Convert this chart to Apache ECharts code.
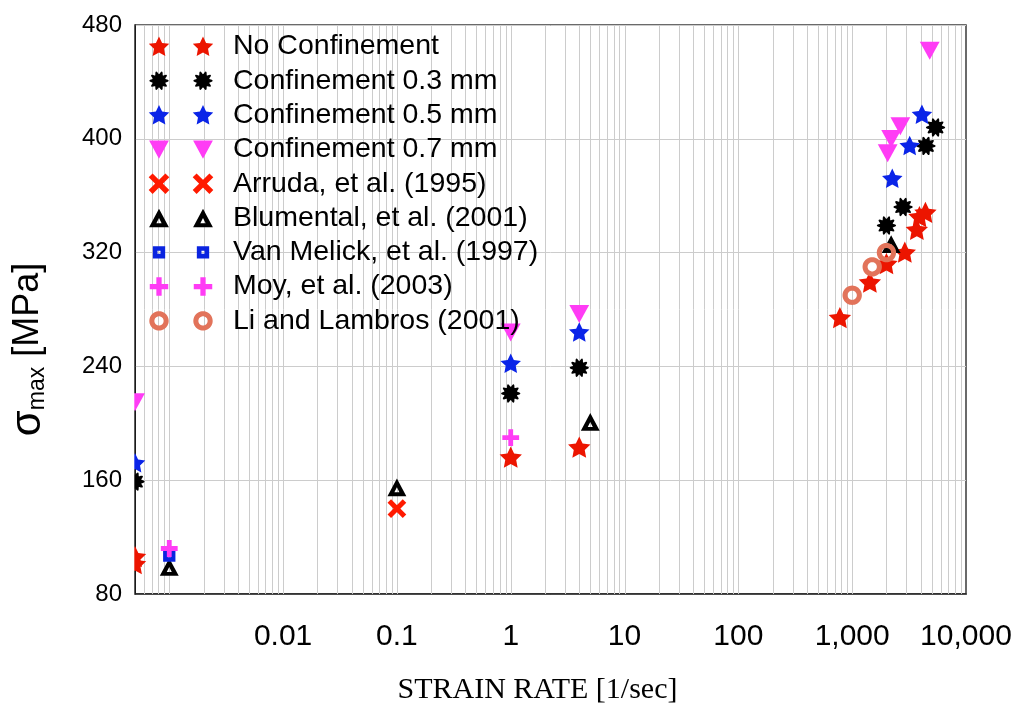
<!DOCTYPE html>
<html>
<head>
<meta charset="utf-8">
<script src="https://cdn.jsdelivr.net/npm/echarts@6/dist/echarts.min.js"></script>
<style>html,body{margin:0;padding:0;background:#fff;}#c{width:1021px;height:704px;}</style>
</head>
<body>
<div id="c"></div>
<script>
// ---------------- data ----------------
const seriesNames = ['No Confinement','Confinement 0.3 mm','Confinement 0.5 mm','Confinement 0.7 mm',
  'Arruda, et al. (1995)','Blumental, et al. (2001)','Van Melick, et al. (1997)','Moy, et al. (2003)','Li and Lambros (2001)'];
const noConfX = [0.0005, 0.0005, 1, 4, 780, 1430, 2000, 2900, 3700, 3900, 4400];
const noConfY = [106, 101, 176, 183, 274, 299, 312, 320, 336, 345, 348];
const conf03X = [0.0005, 1, 4, 2000, 2800, 4450, 5400];
const conf03Y = [159, 221, 239, 339, 352, 395, 408];
const conf05X = [0.0005, 1, 4, 2250, 3200, 4100];
const conf05Y = [172, 242, 264, 372, 395, 417];
const conf07X = [0.0005, 1, 4, 2050, 2200, 2650, 4800];
const conf07Y = [215, 264, 277, 390, 400, 409, 462];
const arrudaX = [0.1];
const arrudaY = [140];
const blumentalX = [0.001, 0.1, 5, 2200];
const blumentalY = [99, 155, 201, 326];
const vanMelickX = [0.001];
const vanMelickY = [107];
const moyX = [0.001, 1];
const moyY = [112, 190];
const liX = [1000, 1500, 2000];
const liY = [290, 310, 320];
const xMin = 0.0005, xMax = 10000;
const yMin = 80, yMax = 480, yStep = 80;
const xLabelDecades = [-2, -1, 0, 1, 2, 3, 4];

// ---------------- marker shapes (unit box 0..100) ----------------
function poly(pts, dx) {
  return 'M' + pts.map(p => (p[0] + dx).toFixed(2) + ' ' + p[1].toFixed(2)).join(' L') + ' Z ';
}
function starPts(cx, cy, R, r) {
  const pts = [];
  for (let k = 0; k < 10; k++) {
    const a = -Math.PI / 2 + k * Math.PI / 5;
    const rr = k % 2 === 0 ? R : r;
    pts.push([cx + rr * Math.cos(a), cy + rr * Math.sin(a)]);
  }
  return pts;
}
function flowerPts() {
  const pts = [];
  for (let k = 0; k < 80; k++) {
    const a = k / 80 * Math.PI * 2;
    const rr = 37 + 7 * Math.cos(10 * a);
    pts.push([50 + rr * Math.cos(a), 50 + rr * Math.sin(a)]);
  }
  return pts;
}
function circlePts(r, reverse) {
  const pts = [];
  for (let k = 0; k < 48; k++) {
    const a = (reverse ? -1 : 1) * k / 48 * Math.PI * 2;
    pts.push([50 + r * Math.cos(a), 50 + r * Math.sin(a)]);
  }
  return pts;
}
const SHAPES = {
  star: [starPts(50, 53, 49, 24)],
  flower: [flowerPts()],
  triDown: [[[5, 10], [95, 10], [50, 92]]],
  cross: [[[20.8, 3.2], [96.8, 79.2], [79.2, 96.8], [3.2, 20.8]], [[79.2, 3.2], [96.8, 20.8], [20.8, 96.8], [3.2, 79.2]]],
  triHollow: [[[50, 8], [95, 92], [5, 92]], [[50, 50], [38, 74], [62, 74]]],
  squareHollow: [[[22, 22], [78, 22], [78, 78], [22, 78]], [[43, 43], [43, 57], [57, 57], [57, 43]]],
  plus: [[[38, 8], [62, 8], [62, 38], [92, 38], [92, 62], [62, 62], [62, 92], [38, 92], [38, 62], [8, 62], [8, 38], [38, 38]]],
  ring: [circlePts(44, false), circlePts(21, true)]
};
function symbolPath(shape) {
  return 'path://M0 0 M100 100 ' + shape.map(p => poly(p, 0)).join('');
}
function legendPath(shape) {
  return 'path://M0 0 M300 100 ' + shape.map(p => poly(p, 0)).join('') + shape.map(p => poly(p, 200)).join('');
}

const FONT = "'Liberation Sans', Arial, sans-serif";
const specs = [
  { x: noConfX, y: noConfY, shape: SHAPES.star, color: '#ec1500', size: 24 },
  { x: conf03X, y: conf03Y, shape: SHAPES.flower, color: '#000000', size: 22 },
  { x: conf05X, y: conf05Y, shape: SHAPES.star, color: '#0a24e8', size: 22 },
  { x: conf07X, y: conf07Y, shape: SHAPES.triDown, color: '#ff3cf5', size: 22 },
  { x: arrudaX, y: arrudaY, shape: SHAPES.cross, color: '#ff1a00', size: 20 },
  { x: blumentalX, y: blumentalY, shape: SHAPES.triHollow, color: '#000000', size: 21 },
  { x: vanMelickX, y: vanMelickY, shape: SHAPES.squareHollow, color: '#0a24e0', size: 22 },
  { x: moyX, y: moyY, shape: SHAPES.plus, color: '#ff3cf5', size: 20 },
  { x: liX, y: liY, shape: SHAPES.ring, color: '#e2735a', size: 22 }
];

// grid line positions (decades and 2..9 subdivisions) from the axis range
const vGrid = [];
for (let e = -4; e <= 4; e++) {
  for (let m = 1; m <= 9; m++) {
    const v = m * Math.pow(10, e);
    if (v > xMin * 1.0001 && v < xMax * 0.9999) vGrid.push(v);
  }
}

const chart = echarts.init(document.getElementById('c'), null, { renderer: 'canvas' });

const scatterSeries = specs.map((s, i) => ({
  name: seriesNames[i],
  type: 'scatter',
  data: s.x.map((v, k) => [v, s.y[k]]),
  symbol: symbolPath(s.shape),
  symbolSize: s.size,
  itemStyle: { color: s.color, opacity: 1 },
  clip: false,
  z: 3,
  emphasis: { disabled: true }
}));

const gridSeries = {
  name: 'vgrid',
  type: 'custom',
  data: vGrid.map(v => [v, yMin]),
  encode: { x: 0, y: 1 },
  silent: true,
  z: 1,
  renderItem: function (params, api) {
    const v = api.value(0);
    const p1 = api.coord([v, yMin]);
    const p2 = api.coord([v, yMax]);
    const x = Math.round(p1[0]) + 0.5;
    return { type: 'line', shape: { x1: x, y1: p1[1], x2: x, y2: p2[1] }, style: { stroke: '#cccccc', lineWidth: 1 } };
  }
};

chart.setOption({
  animation: false,
  backgroundColor: '#ffffff',
  grid: { left: 135, right: 55, top: 25, bottom: 110, containLabel: false, outerBoundsMode: 'none',
    show: true, borderColor: '#3a3a3a', borderWidth: 1.5, backgroundColor: 'transparent' },
  legend: {
    orient: 'vertical', left: 143, top: 27,
    itemWidth: 66, itemHeight: 22, itemGap: 5.3,
    selectedMode: false,
    textStyle: { fontSize: 28.5, fontFamily: FONT, color: '#000', lineHeight: 28, padding: [0, 0, 0, 14] },
    data: seriesNames.map((n, i) => ({ name: n, icon: legendPath(specs[i].shape) }))
  },
  xAxis: {
    type: 'log', logBase: 10, min: xMin, max: xMax,
    name: 'STRAIN RATE [1/sec]', nameLocation: 'middle', nameGap: 81,
    nameTextStyle: { fontFamily: "'Liberation Serif', 'Times New Roman', serif", fontSize: 30, color: '#000', padding: [0, 26, 0, 0] },
    axisLine: { show: true, onZero: false, lineStyle: { color: '#222', width: 1.5 } },
    axisTick: { show: false },
    splitLine: { show: false },
    axisLabel: {
      fontFamily: FONT, fontSize: 30, color: '#000', margin: 28,
      formatter: function (v) {
        const lg = Math.log10(v);
        const e = Math.round(lg);
        if (Math.abs(lg - e) > 1e-6 || xLabelDecades.indexOf(e) < 0) return '';
        if (e < 0) return v.toFixed(-e);
        return Math.round(v).toLocaleString('en-US');
      }
    }
  },
  yAxis: {
    type: 'value', min: yMin, max: yMax, interval: yStep,
    name: '{s|σ}{m|max} [MPa]', nameLocation: 'middle', nameGap: 86,
    nameTextStyle: {
      fontFamily: FONT, fontSize: 36, color: '#000', padding: [0, 80, 0, 0],
      rich: { s: { fontFamily: FONT, fontSize: 42, color: '#000' }, m: { fontFamily: FONT, fontSize: 23, color: '#000', verticalAlign: 'bottom', padding: [15, 0, 0, 0] } }
    },
    axisLine: { show: true, onZero: false, lineStyle: { color: '#000', width: 1.5 } },
    axisTick: { show: false },
    splitLine: { show: true, lineStyle: { color: '#cccccc', width: 1 } },
    axisLabel: { fontFamily: FONT, fontSize: 24, color: '#000', margin: 13 }
  },
  graphic: [{
    type: 'rect', left: 122, top: 20, z: 50, silent: true,
    shape: { width: 12.3, height: 580 }, style: { fill: '#ffffff' }
  }],
  series: [gridSeries].concat(scatterSeries)
});
</script>
</body>
</html>
